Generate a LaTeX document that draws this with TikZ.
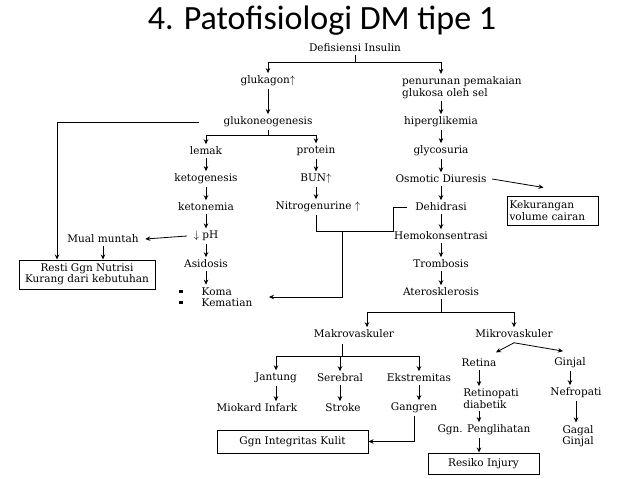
\documentclass[tikz,border=0pt]{standalone}
\usepackage{fontspec}
\setmainfont{DejaVu Serif}
\newfontfamily\titlefont{Carlito}
\usetikzlibrary{arrows.meta,calc}
\begin{document}
\begin{tikzpicture}[x=1pt,y=-1pt,
  t/.style={font=\fontsize{10.5}{11.5}\selectfont, inner sep=2.5pt},
  arr/.style={-{Stealth[length=5pt,width=4.5pt]}, line width=0.8pt},
  ln/.style={line width=0.8pt},
  bx/.style={t, draw, line width=1pt, align=center}]
\useasboundingbox (0,0) rectangle (638,479);
% title
\node[font=\titlefont\fontsize{34}{37}\selectfont, anchor=base] (title) at (322,30) {4. Patofisiologi DM tipe 1};
% nodes
\node[t] (def) at (355,48) {Defisiensi Insulin};
\node[t] (glukagon) at (268,81) {glukagon$\uparrow$};
\node[t, align=left] (pen) at (462,87.5) {penurunan pemakaian\\[0pt]glukosa oleh sel};
\node[t] (gluko) at (268,122) {glukoneogenesis};
\node[t] (hip) at (441,122) {hiperglikemia};
\node[t] (lemak) at (206,151) {lemak};
\node[t] (protein) at (316,151) {protein};
\node[t] (glyco) at (441,151) {glycosuria};
\node[t] (keto) at (206,179) {ketogenesis};
\node[t] (bun) at (316,179) {BUN$\uparrow$};
\node[t] (osm) at (441,179) {Osmotic Diuresis};
\node[t] (ketonemia) at (206,207) {ketonemia};
\node[t] (nitro) at (318,207) {Nitrogenurine $\uparrow$};
\node[t] (dehid) at (441,207) {Dehidrasi};
\node[bx, align=left, text width=86pt, minimum height=29pt] (kek) at (552.5,210.5) {Kekurangan\\volume cairan};
\node[t] (ph) at (206,236) {$\downarrow$ pH};
\node[t] (mual) at (103,239) {Mual muntah};
\node[t] (hemo) at (441,236) {Hemokonsentrasi};
\node[t] (asid) at (206,264) {Asidosis};
\node[t] (trom) at (441,264) {Trombosis};
\node[bx, minimum width=136pt, minimum height=29pt, inner sep=1pt] (resti) at (87,274.5) {Resti Ggn Nutrisi\\Kurang dari kebutuhan};
\node[t, align=left, anchor=west] (koma) at (199,297) {Koma\\Kematian};
\fill (179,289.5) rectangle (183,292.5);
\fill (179,300.5) rectangle (183,303.5);
\node[t] (ater) at (441,292) {Aterosklerosis};
\node[t] (makro) at (354,334) {Makrovaskuler};
\node[t] (mikro) at (514,334) {Mikrovaskuler};
\node[t] (jantung) at (276,378) {Jantung};
\node[t] (serebral) at (340,378) {Serebral};
\node[t] (ekstr) at (419,378) {Ekstremitas};
\node[t] (retina) at (479,363) {Retina};
\node[t] (ginjal) at (570,363) {Ginjal};
\node[t, align=left] (retino) at (491,398.5) {Retinopati\\diabetik};
\node[t] (nef) at (576,393) {Nefropati};
\node[t] (miokard) at (257,408) {Miokard Infark};
\node[t] (stroke) at (343,408) {Stroke};
\node[t] (gangren) at (414,408) {Gangren};
\node[t] (peng) at (484,430) {Ggn. Penglihatan};
\node[t, align=center] (gagal) at (578,436) {Gagal\\Ginjal};
\node[bx, minimum width=151pt, minimum height=23pt] (kulit) at (292.5,441.5) {Ggn Integritas Kulit};
\node[bx, minimum width=111pt, minimum height=21pt] (resiko) at (483.5,463.5) {Resiko Injury};
% connectors
\coordinate (j1) at (355,62);
\draw[ln] (def.south) -- (j1);
\draw[arr] (j1) -| (glukagon.north);
\draw[arr] (j1) -| (pen.north -| hip);
\draw[arr] (glukagon) -- (gluko);
\draw[arr] (pen.south -| hip) -- (hip);
\coordinate (L) at (57,122);
\draw[arr] ([xshift=-22pt]gluko.west) -- (L) -- (L |- resti.north);
\coordinate (j2) at (268,135);
\draw[ln] (gluko.south) -- (j2);
\draw[arr] (j2) -| (lemak.north);
\draw[arr] (j2) -| (protein.north);
\draw[arr] (hip) -- (glyco);
\draw[arr] (glyco) -- (osm);
\draw[arr] (lemak) -- (keto);
\draw[arr] (keto) -- (ketonemia);
\draw[arr] (ketonemia) -- (ph);
\draw[arr] (ph) -- (asid);
\draw[arr] (asid) -- (asid |- koma.north);
\draw[arr] ([xshift=-4pt]ph.west) -- ([xshift=4pt]mual.east);
\draw[arr] (mual) -- (mual |- resti.north);
\draw[arr] (protein) -- (bun);
\draw[arr] (bun) -- (bun |- nitro.north);
\draw[arr] (osm) -- (dehid);
\draw[arr] (dehid) -- (hemo);
\draw[arr] (hemo) -- (trom);
\draw[arr] (trom) -- (ater);
\draw[arr] ([xshift=3pt]osm.east) -- ($(kek.north west)+(37,-8)$);
\coordinate (j5) at (393,231);
\coordinate (j3) at (316,231);
\coordinate (j4) at (342,231);
\draw[ln] ([xshift=-6pt]dehid.west) -| (j5) -- (j3) -- (j3 |- nitro.south);
\draw[arr] (j4) |- ([xshift=14pt]koma.east);
\coordinate (j7) at (441,312);
\draw[ln] (ater.south) -- (j7);
\draw[arr] (j7) -| ([xshift=13pt]makro.north);
\draw[arr] (j7) -| (mikro.north);
\coordinate (j8) at (342,356);
\draw[ln] ([xshift=-12pt,yshift=-3pt]makro.south) -- (j8);
\draw[arr] (j8) -| (jantung.north);
\draw[arr] (j8) -| (serebral.north);
\draw[arr] (j8) -| (ekstr.north);
\draw[arr] (jantung) -- (jantung |- miokard.north);
\draw[arr] (serebral) -- (serebral |- stroke.north);
\draw[arr] (ekstr) -- (ekstr |- gangren.north);
\draw[arr] (gangren.south) |- (kulit.east);
\draw[arr] ([yshift=-2pt]mikro.south) -- ([xshift=17pt,yshift=4pt]retina.north);
\draw[arr] ([yshift=-2pt]mikro.south) -- ([xshift=-7pt,yshift=4pt]ginjal.north);
\draw[arr] (retina) -- (retina |- retino.north);
\draw[arr] (retino.south -| retina) -- (retina |- peng.north);
\draw[arr] (peng.south -| retina) -- (retina |- resiko.north);
\draw[arr] (ginjal) -- (ginjal |- nef.north);
\draw[arr] (nef) -- (nef |- gagal.north);
\end{tikzpicture}
\end{document}
